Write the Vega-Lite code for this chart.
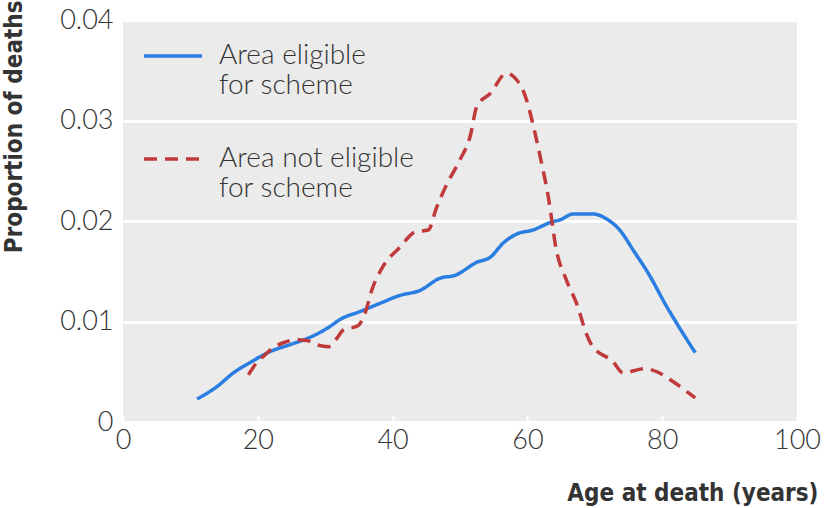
{
  "$schema": "https://vega.github.io/schema/vega-lite/v6.json",
  "width": 674,
  "height": 402,
  "autosize": "none",
  "padding": {"left": 123, "top": 20, "right": 27, "bottom": 86},
  "background": "white",
  "config": {
    "view": {"fill": "#ebebeb", "stroke": null},
    "font": "Lato"
  },
  "data": {
    "values": [
      {"age": 11.0, "p": 0.0023, "group": "Area eligible for scheme"},
      {"age": 13.9, "p": 0.0035, "group": "Area eligible for scheme"},
      {"age": 16.4, "p": 0.0049, "group": "Area eligible for scheme"},
      {"age": 18.8, "p": 0.0059, "group": "Area eligible for scheme"},
      {"age": 21.8, "p": 0.0070, "group": "Area eligible for scheme"},
      {"age": 24.8, "p": 0.0077, "group": "Area eligible for scheme"},
      {"age": 27.3, "p": 0.0083, "group": "Area eligible for scheme"},
      {"age": 29.2, "p": 0.0089, "group": "Area eligible for scheme"},
      {"age": 30.7, "p": 0.0095, "group": "Area eligible for scheme"},
      {"age": 32.2, "p": 0.0102, "group": "Area eligible for scheme"},
      {"age": 35.2, "p": 0.0110, "group": "Area eligible for scheme"},
      {"age": 38.1, "p": 0.0118, "group": "Area eligible for scheme"},
      {"age": 41.1, "p": 0.0126, "group": "Area eligible for scheme"},
      {"age": 44.1, "p": 0.0131, "group": "Area eligible for scheme"},
      {"age": 47.0, "p": 0.0143, "group": "Area eligible for scheme"},
      {"age": 49.3, "p": 0.0146, "group": "Area eligible for scheme"},
      {"age": 52.5, "p": 0.0159, "group": "Area eligible for scheme"},
      {"age": 54.5, "p": 0.0164, "group": "Area eligible for scheme"},
      {"age": 56.4, "p": 0.0178, "group": "Area eligible for scheme"},
      {"age": 58.4, "p": 0.0187, "group": "Area eligible for scheme"},
      {"age": 60.8, "p": 0.0191, "group": "Area eligible for scheme"},
      {"age": 63.6, "p": 0.0199, "group": "Area eligible for scheme"},
      {"age": 64.8, "p": 0.0201, "group": "Area eligible for scheme"},
      {"age": 66.8, "p": 0.0207, "group": "Area eligible for scheme"},
      {"age": 69.7, "p": 0.0207, "group": "Area eligible for scheme"},
      {"age": 72.0, "p": 0.0201, "group": "Area eligible for scheme"},
      {"age": 73.7, "p": 0.0191, "group": "Area eligible for scheme"},
      {"age": 75.7, "p": 0.0171, "group": "Area eligible for scheme"},
      {"age": 78.2, "p": 0.0145, "group": "Area eligible for scheme"},
      {"age": 80.4, "p": 0.0118, "group": "Area eligible for scheme"},
      {"age": 81.9, "p": 0.0101, "group": "Area eligible for scheme"},
      {"age": 84.9, "p": 0.0069, "group": "Area eligible for scheme"},
      {"age": 18.6, "p": 0.0047, "group": "Area not eligible for scheme"},
      {"age": 19.6, "p": 0.0057, "group": "Area not eligible for scheme"},
      {"age": 21.1, "p": 0.0067, "group": "Area not eligible for scheme"},
      {"age": 22.3, "p": 0.0074, "group": "Area not eligible for scheme"},
      {"age": 24.3, "p": 0.0080, "group": "Area not eligible for scheme"},
      {"age": 25.5, "p": 0.0082, "group": "Area not eligible for scheme"},
      {"age": 27.3, "p": 0.0081, "group": "Area not eligible for scheme"},
      {"age": 28.7, "p": 0.0077, "group": "Area not eligible for scheme"},
      {"age": 30.5, "p": 0.0075, "group": "Area not eligible for scheme"},
      {"age": 31.7, "p": 0.0083, "group": "Area not eligible for scheme"},
      {"age": 32.6, "p": 0.0091, "group": "Area not eligible for scheme"},
      {"age": 34.9, "p": 0.0096, "group": "Area not eligible for scheme"},
      {"age": 35.9, "p": 0.0108, "group": "Area not eligible for scheme"},
      {"age": 36.9, "p": 0.0131, "group": "Area not eligible for scheme"},
      {"age": 38.6, "p": 0.0155, "group": "Area not eligible for scheme"},
      {"age": 41.1, "p": 0.0174, "group": "Area not eligible for scheme"},
      {"age": 43.3, "p": 0.0189, "group": "Area not eligible for scheme"},
      {"age": 45.3, "p": 0.0191, "group": "Area not eligible for scheme"},
      {"age": 46.5, "p": 0.0213, "group": "Area not eligible for scheme"},
      {"age": 48.0, "p": 0.0236, "group": "Area not eligible for scheme"},
      {"age": 50.0, "p": 0.0261, "group": "Area not eligible for scheme"},
      {"age": 51.5, "p": 0.0284, "group": "Area not eligible for scheme"},
      {"age": 52.5, "p": 0.0314, "group": "Area not eligible for scheme"},
      {"age": 54.5, "p": 0.0327, "group": "Area not eligible for scheme"},
      {"age": 56.9, "p": 0.0347, "group": "Area not eligible for scheme"},
      {"age": 57.9, "p": 0.0344, "group": "Area not eligible for scheme"},
      {"age": 59.9, "p": 0.0320, "group": "Area not eligible for scheme"},
      {"age": 60.8, "p": 0.0297, "group": "Area not eligible for scheme"},
      {"age": 61.9, "p": 0.0264, "group": "Area not eligible for scheme"},
      {"age": 63.1, "p": 0.0224, "group": "Area not eligible for scheme"},
      {"age": 64.3, "p": 0.0171, "group": "Area not eligible for scheme"},
      {"age": 65.8, "p": 0.0141, "group": "Area not eligible for scheme"},
      {"age": 67.3, "p": 0.0118, "group": "Area not eligible for scheme"},
      {"age": 68.8, "p": 0.0087, "group": "Area not eligible for scheme"},
      {"age": 69.5, "p": 0.0077, "group": "Area not eligible for scheme"},
      {"age": 72.7, "p": 0.0060, "group": "Area not eligible for scheme"},
      {"age": 74.2, "p": 0.0049, "group": "Area not eligible for scheme"},
      {"age": 77.4, "p": 0.0053, "group": "Area not eligible for scheme"},
      {"age": 79.2, "p": 0.0050, "group": "Area not eligible for scheme"},
      {"age": 81.2, "p": 0.0042, "group": "Area not eligible for scheme"},
      {"age": 84.9, "p": 0.0024, "group": "Area not eligible for scheme"}
    ]
  },
  "mark": {"type": "line", "strokeWidth": 3.5, "interpolate": "monotone", "strokeCap": "butt"},
  "encoding": {
    "x": {
      "field": "age",
      "type": "quantitative",
      "scale": {"domain": [0, 100], "nice": false},
      "axis": {
        "values": [0, 20, 40, 60, 80, 100],
        "title": "Age at death (years)",
        "grid": false,
        "domain": false,
        "ticks": true,
        "tickColor": "white",
        "tickWidth": 2,
        "tickSize": -7,
        "labelPadding": 12,
        "labelFontSize": 27,
        "labelColor": "#333333",
        "labelFont": "Lato",
        "labelFontWeight": 300,
        "labelFlush": false,
        "titleFont": "Liberation Sans Narrow, DejaVu Sans Condensed, sans-serif",
        "titleFontSize": 24,
        "titleFontWeight": "bold",
        "titleColor": "#333333",
        "titleAlign": "right",
        "titleAnchor": "end",
        "titleX": 695,
        "titleY": 78,
        "titleBaseline": "alphabetic"
      }
    },
    "y": {
      "field": "p",
      "type": "quantitative",
      "scale": {"domain": [0, 0.04], "nice": false},
      "axis": {
        "values": [0, 0.01, 0.02, 0.03, 0.04],
        "labelExpr": "datum.value == 0 ? '0' : format(datum.value, '.2f')",
        "title": "Proportion of deaths",
        "grid": true,
        "gridColor": "white",
        "gridWidth": 3,
        "gridOpacity": 1,
        "domain": false,
        "ticks": false,
        "labelPadding": 10,
        "labelFontSize": 27,
        "labelColor": "#333333",
        "labelFont": "Lato",
        "labelFontWeight": 300,
        "labelFlush": false,
        "titleFont": "Liberation Sans Narrow, DejaVu Sans Condensed, sans-serif",
        "titleFontSize": 24,
        "titleFontWeight": "bold",
        "titleColor": "#333333",
        "titleAngle": -90,
        "titleAlign": "right",
        "titleAnchor": "end",
        "titleBaseline": "middle",
        "titleX": -109,
        "titleY": -20
      }
    },
    "color": {
      "field": "group",
      "type": "nominal",
      "scale": {
        "domain": ["Area eligible for scheme", "Area not eligible for scheme"],
        "range": ["#2a7de1", "#c0393b"]
      },
      "legend": {
        "title": null,
        "orient": "none",
        "legendX": 19,
        "legendY": 5,
        "padding": 0,
        "symbolType": "stroke",
        "symbolSize": 3364,
        "symbolStrokeWidth": 3.5,
        "labelExpr": "datum.label == 'Area eligible for scheme' ? ['Area eligible', 'for scheme'] : ['Area not eligible', 'for scheme']",
        "labelFontSize": 28,
        "labelFont": "Lato",
        "labelFontWeight": 300,
        "labelColor": "#333333",
        "labelLimit": 300,
        "labelOffset": 15,
        "labelBaseline": "middle",
        "rowPadding": 28
      }
    },
    "strokeDash": {
      "field": "group",
      "type": "nominal",
      "scale": {
        "domain": ["Area eligible for scheme", "Area not eligible for scheme"],
        "range": [[1, 0], [13, 8]]
      },
      "legend": null
    }
  }
}
